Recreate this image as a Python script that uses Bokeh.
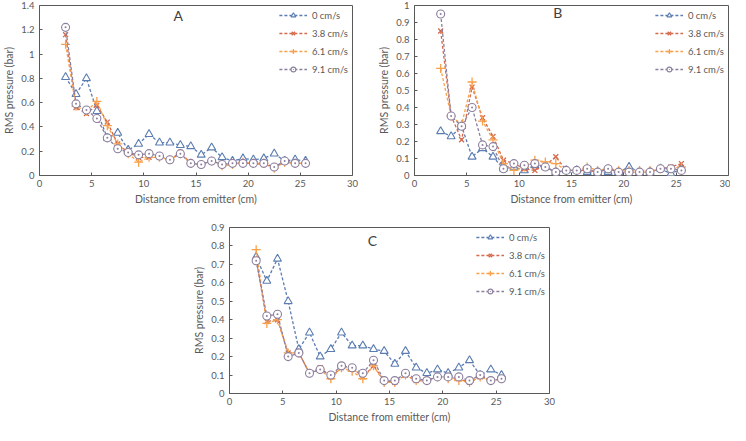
from bokeh.plotting import figure
from bokeh.layouts import column, row
from bokeh.models import (Spacer, Legend, LegendItem, Label, FixedTicker,
                          CustomJSTickFormatter, Range1d)
from bokeh.embed import file_html
from bokeh.resources import INLINE

# ---------------- data ----------------
distance = [2.5, 3.5, 4.5, 5.5, 6.5, 7.5, 8.5, 9.5, 10.5, 11.5, 12.5, 13.5,
            14.5, 15.5, 16.5, 17.5, 18.5, 19.5, 20.5, 21.5, 22.5, 23.5, 24.5, 25.5]
series_names = ["0 cm/s", "3.8 cm/s", "6.1 cm/s", "9.1 cm/s"]

a_0 = [0.81, 0.67, 0.80, 0.53, 0.31, 0.35, 0.21, 0.26, 0.34, 0.27, 0.27, 0.25,
       0.24, 0.17, 0.23, 0.15, 0.12, 0.14, 0.13, 0.14, 0.18, 0.12, 0.13, 0.12]
a_38 = [1.16, 0.56, 0.51, 0.58, 0.44, 0.26, 0.19, 0.15, 0.15, 0.15, 0.13, 0.19,
        0.10, 0.09, 0.12, 0.09, 0.10, 0.10, 0.10, 0.09, 0.07, 0.11, 0.10, 0.10]
a_61 = [1.08, 0.57, 0.53, 0.61, 0.41, 0.26, 0.18, 0.11, 0.15, 0.15, 0.13, 0.18,
        0.10, 0.09, 0.12, 0.08, 0.09, 0.11, 0.10, 0.10, 0.06, 0.11, 0.10, 0.10]
a_91 = [1.22, 0.59, 0.54, 0.47, 0.31, 0.22, 0.19, 0.17, 0.18, 0.16, 0.13, 0.18,
        0.10, 0.09, 0.12, 0.09, 0.10, 0.10, 0.10, 0.10, 0.07, 0.12, 0.10, 0.10]

b_0 = [0.26, 0.23, 0.29, 0.11, 0.16, 0.11, 0.04, 0.05, 0.03, 0.06, 0.05, 0.02,
       0.03, 0.03, 0.02, 0.02, 0.02, 0.02, 0.05, 0.02, 0.02, 0.04, 0.01, 0.04]
b_38 = [0.85, 0.35, 0.21, 0.52, 0.34, 0.23, 0.09, 0.07, 0.04, 0.03, 0.06, 0.11,
        0.03, 0.03, 0.03, 0.02, 0.04, 0.02, 0.02, 0.02, 0.02, 0.04, 0.05, 0.07]
b_61 = [0.63, 0.35, 0.30, 0.55, 0.32, 0.21, 0.07, 0.03, 0.05, 0.09, 0.08, 0.07,
        0.03, 0.03, 0.05, 0.03, 0.04, 0.03, 0.03, 0.03, 0.03, 0.04, 0.04, 0.05]
b_91 = [0.95, 0.35, 0.29, 0.40, 0.18, 0.17, 0.04, 0.07, 0.06, 0.07, 0.05, 0.02,
        0.03, 0.03, 0.04, 0.02, 0.04, 0.02, 0.02, 0.02, 0.02, 0.04, 0.04, 0.03]

c_0 = [0.74, 0.61, 0.73, 0.50, 0.24, 0.33, 0.20, 0.24, 0.33, 0.26, 0.26, 0.24,
       0.23, 0.16, 0.23, 0.14, 0.11, 0.13, 0.11, 0.14, 0.18, 0.10, 0.13, 0.10]
c_38 = [0.73, 0.39, 0.40, 0.22, 0.22, 0.11, 0.14, 0.09, 0.14, 0.14, 0.09, 0.15,
        0.07, 0.06, 0.10, 0.07, 0.07, 0.09, 0.09, 0.08, 0.06, 0.09, 0.07, 0.08]
c_61 = [0.78, 0.38, 0.40, 0.22, 0.22, 0.11, 0.13, 0.08, 0.14, 0.12, 0.08, 0.15,
        0.06, 0.06, 0.10, 0.07, 0.07, 0.09, 0.08, 0.07, 0.06, 0.09, 0.07, 0.08]
c_91 = [0.72, 0.42, 0.43, 0.20, 0.22, 0.11, 0.13, 0.10, 0.15, 0.14, 0.11, 0.18,
        0.07, 0.07, 0.11, 0.08, 0.07, 0.09, 0.09, 0.09, 0.07, 0.10, 0.07, 0.08]

x_ticks = [0, 5, 10, 15, 20, 25, 30]
a_yticks = [0, 0.2, 0.4, 0.6, 0.8, 1.0, 1.2, 1.4]
b_yticks = [0, 0.1, 0.2, 0.3, 0.4, 0.5, 0.6, 0.7, 0.8, 0.9, 1.0]
c_yticks = [0, 0.1, 0.2, 0.3, 0.4, 0.5, 0.6, 0.7, 0.8, 0.9]

# ---------------- style ----------------
FONT = "Lato"
GREY = "#595959"
colors = ["#5B7DB1", "#D4694B", "#F8A04A", "#8C7F9E"]
markers = ["triangle", "x", "cross", "circle_dot"]
msizes = [8, 7, 9, 8]


def make_panel(letter, ys, yticks, letter_x, letter_y, width, height,
               bl, br, bt, bb):
    p = figure(width=width, height=height, output_backend="svg",
               toolbar_location=None,
               x_range=Range1d(0, 30), y_range=Range1d(0, yticks[-1]),
               min_border_left=bl, min_border_right=br,
               min_border_top=bt, min_border_bottom=bb)
    p.grid.visible = False
    p.outline_line_color = GREY
    p.outline_line_width = 1
    p.background_fill_color = "white"
    p.border_fill_color = "white"

    p.xaxis.ticker = FixedTicker(ticks=x_ticks)
    p.yaxis.ticker = FixedTicker(ticks=yticks)
    p.yaxis.formatter = CustomJSTickFormatter(
        code="return String(Math.round(tick*10)/10)")
    for ax in (p.xaxis[0], p.yaxis[0]):
        ax.axis_line_color = None
        ax.major_tick_in = 3
        ax.major_tick_out = 0
        ax.major_tick_line_color = GREY
        ax.minor_tick_line_color = None
        ax.major_label_text_font = FONT
        ax.major_label_text_font_size = "9.5px"
        ax.major_label_text_color = GREY
        ax.axis_label_text_font = FONT
        ax.axis_label_text_font_size = "10.5px"
        ax.axis_label_text_font_style = "normal"
        ax.axis_label_text_color = GREY
        ax.major_label_standoff = 4
        ax.axis_label_standoff = 3
    p.yaxis.major_label_standoff = 5
    p.xaxis.axis_label = "Distance from emitter (cm)"
    p.yaxis.axis_label = "RMS pressure (bar)"

    items = []
    for name, y, c, m, s in zip(series_names, ys, colors, markers, msizes):
        lr = p.line(distance, y, line_color=c, line_width=1.3, line_dash="3 2")
        if m in ("triangle", "circle_dot"):
            sr = p.scatter(distance, y, marker=m, size=s, line_color=c,
                           fill_color="white", line_width=1.1)
        else:
            sr = p.scatter(distance, y, marker=m, size=s, line_color=c,
                           line_width=1.3)
        items.append(LegendItem(label=name, renderers=[lr, sr]))

    leg = Legend(items=items, location="top_right",
                 border_line_color=None, background_fill_alpha=0,
                 label_text_font=FONT, label_text_font_size="9.5px",
                 label_text_color=GREY, glyph_width=28, glyph_height=12,
                 label_height=12, spacing=6, padding=1, margin=4,
                 label_standoff=5)
    p.add_layout(leg, "center")

    p.add_layout(Label(x=letter_x, y=letter_y, text=letter,
                       text_font=FONT, text_font_size="14px",
                       text_color="#404040", text_align="center",
                       text_baseline="middle"))
    return p


pA = make_panel("A", [a_0, a_38, a_61, a_91], a_yticks, 13.3, 1.318,
                366, 213, 36, 14, 5, 38)
pB = make_panel("B", [b_0, b_38, b_61, b_91], b_yticks, 13.7, 0.959,
                364, 213, 48, 2, 5, 38)
pC = make_panel("C", [c_0, c_38, c_61, c_91], c_yticks, 13.4, 0.83,
                366, 212, 40, 6, 14, 32)

layout = column(row(pA, pB), row(Spacer(width=189, height=212), pC))

open("out.html", "w").write(file_html(layout, INLINE))
